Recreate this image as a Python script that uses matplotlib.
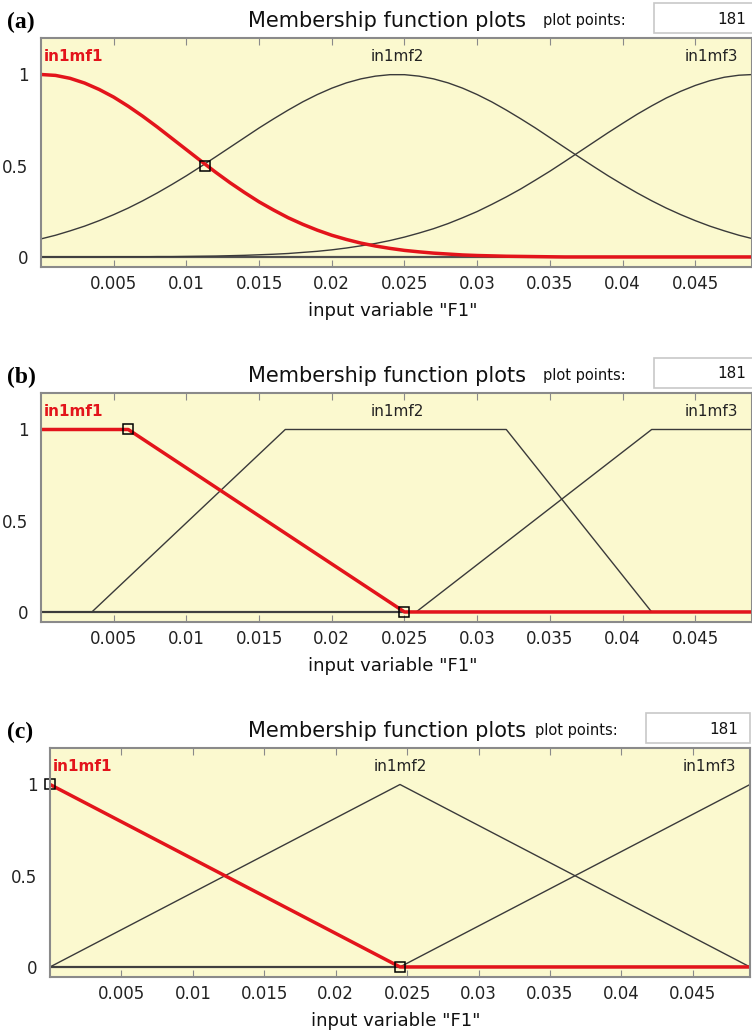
import numpy as np
import matplotlib.pyplot as plt
from matplotlib.patches import Rectangle
from matplotlib.transforms import ScaledTranslation

# ---- data ----
# (a) gaussian MFs, sampled every 0.001 from 0 to 0.049
gauss_x = [i / 1000 for i in range(50)]
gauss_mf1 = [1.0, 0.995, 0.979, 0.953, 0.918, 0.876, 0.826, 0.771, 0.712, 0.650,
             0.588, 0.526, 0.465, 0.407, 0.353, 0.302, 0.257, 0.215, 0.179, 0.147,
             0.119, 0.096, 0.076, 0.060, 0.047, 0.036, 0.028, 0.021, 0.016, 0.011,
             0.008, 0.006, 0.004, 0.003, 0.002, 0.001, 0.0, 0.0, 0.0, 0.0,
             0.0, 0.0, 0.0, 0.0, 0.0, 0.0, 0.0, 0.0, 0.0, 0.0]
gauss_mf2 = [0.099, 0.119, 0.143, 0.169, 0.199, 0.232, 0.268, 0.308, 0.351, 0.397,
             0.445, 0.496, 0.548, 0.601, 0.654, 0.707, 0.757, 0.805, 0.850, 0.890,
             0.925, 0.954, 0.976, 0.991, 0.999, 0.999, 0.991, 0.976, 0.954, 0.925,
             0.890, 0.850, 0.805, 0.757, 0.707, 0.654, 0.601, 0.548, 0.496, 0.445,
             0.397, 0.351, 0.308, 0.268, 0.232, 0.199, 0.169, 0.143, 0.119, 0.099]
gauss_mf3 = [0.0, 0.0, 0.0, 0.0, 0.0, 0.001, 0.001, 0.001, 0.002, 0.002,
             0.003, 0.004, 0.005, 0.007, 0.009, 0.012, 0.015, 0.019, 0.025, 0.031,
             0.039, 0.049, 0.061, 0.074, 0.090, 0.109, 0.131, 0.155, 0.183, 0.215,
             0.249, 0.288, 0.329, 0.373, 0.421, 0.470, 0.522, 0.575, 0.628, 0.681,
             0.732, 0.782, 0.828, 0.871, 0.908, 0.940, 0.966, 0.985, 0.996, 1.0]
gauss_marks = ([0.0113], [0.5])

# (b) trapezoid MFs (vertices)
trap_mf1 = ([0.0, 0.006, 0.025, 0.049], [1, 1, 0, 0])
trap_mf2 = ([0.0, 0.0035, 0.0168, 0.032, 0.042, 0.049], [0, 0, 1, 1, 0, 0])
trap_mf3 = ([0.0, 0.0258, 0.042, 0.049], [0, 0, 1, 1])
trap_marks = ([0.006, 0.025], [1, 0])

# (c) triangle MFs (vertices)
tri_mf1 = ([0.0, 0.0245, 0.049], [1, 0, 0])
tri_mf2 = ([0.0, 0.0245, 0.049], [0, 1, 0])
tri_mf3 = ([0.0, 0.0245, 0.049], [0, 0, 1])
tri_marks = ([0.0, 0.0245], [1, 0])

xticks = [0.005, 0.01, 0.015, 0.02, 0.025, 0.03, 0.035, 0.04, 0.045]
xtick_labels = ['0.005', '0.01', '0.015', '0.02', '0.025', '0.03', '0.035', '0.04', '0.045']
yticks = [0, 0.5, 1]
ytick_labels = ['0', '0.5', '1']
mf_names = ['in1mf1', 'in1mf2', 'in1mf3']
panel_tags = ['(a)', '(b)', '(c)']

W, H = 752, 1035
BG = '#fbf9cf'
RED = '#e3141b'
DARK = '#3a3a3a'

fig = plt.figure(figsize=(W / 100, H / 100), dpi=100)


def rect(l, t, r, b):
    return [l / W, 1 - b / H, (r - l) / W, (b - t) / H]


def px(x, y):
    return x / W, 1 - y / H


panels = [
    # curves, marks, axes box (l, t, r, b), xmax, header dy, header dx, box right
    ((gauss_x, gauss_mf1), (gauss_x, gauss_mf2), (gauss_x, gauss_mf3), gauss_marks,
     (41, 38, 752, 267), 0.0489, 0, 0, 764),
    (trap_mf1, trap_mf2, trap_mf3, trap_marks, (41, 393, 752, 622), 0.0489, 355, 0, 764),
    (tri_mf1, tri_mf2, tri_mf3, tri_marks, (50, 748, 750, 977), 0.049, 710, -8, 750),
]

for k, (m1, m2, m3, marks, box, xmax, dy, dx, box_r) in enumerate(panels):
    l, t, r, b = box
    ax = fig.add_axes(rect(l, t, r, b))
    ax.set_facecolor(BG)
    ax.plot(m2[0], m2[1], color=DARK, lw=1.0)
    ax.plot(m3[0], m3[1], color=DARK, lw=1.0)
    ax.plot([0, xmax], [0, 0], color='#505050', lw=1.6, zorder=1)
    ax.plot(m1[0], m1[1], color=RED, lw=2.5)
    ax.plot(marks[0], marks[1], 's', ms=7, mfc='none', mec='black', mew=1.1, clip_on=False)
    ax.set_xlim(0, xmax)
    ax.set_ylim(-0.055, 1.2)
    ax.set_xticks(xticks)
    ax.set_xticklabels(xtick_labels)
    ax.set_yticks(yticks)
    ax.set_yticklabels(ytick_labels)
    ax.tick_params(axis='x', direction='in', length=5, color='#8a8a8a', top=True,
                   labelsize=12, pad=6, labelcolor='#222222')
    ax.tick_params(axis='y', length=0, labelsize=12, pad=9, labelcolor='#222222')
    for s in ax.spines.values():
        s.set_color('#8a8a8a')
        s.set_linewidth(1.5)

    ax.text(0.0002, 1.1, mf_names[0], color=RED, fontsize=11, fontweight='bold',
            ha='left', va='center')
    ax.text(0.0245, 1.1, mf_names[1], color='#222222', fontsize=11, ha='center', va='center')
    off = ScaledTranslation(-0.14, 0, fig.dpi_scale_trans)
    ax.text(xmax, 1.1, mf_names[2], color='#222222', fontsize=11, ha='right', va='center',
            transform=ax.transData + off)

    # header
    fig.text(*px(7, 22 + dy), panel_tags[k], fontsize=17, fontweight='bold',
             family='Liberation Serif', va='center', ha='left')
    fig.text(*px(248, 27 + dy), 'Membership function plots', fontsize=15,
             va='baseline', ha='left', color='#111111')
    fig.text(*px(543 + dx, 25 + dy), 'plot points:', fontsize=10.5,
             va='baseline', ha='left', color='#111111')
    bx = 654 + dx
    fig.add_artist(Rectangle(px(bx, 33 + dy), (box_r - bx) / W, 30 / H,
                             transform=fig.transFigure, facecolor='white',
                             edgecolor='#c8c8c8', lw=1.2))
    fig.text(*px(746 + dx, 19 + dy), '181', fontsize=11, va='center', ha='right',
             color='#111111')

    fig.text(*px((l + r) / 2 - 4, b + 44), 'input variable "F1"', fontsize=13,
             ha='center', va='center', color='#111111')

fig.savefig('out.png', dpi=100, facecolor='white')
